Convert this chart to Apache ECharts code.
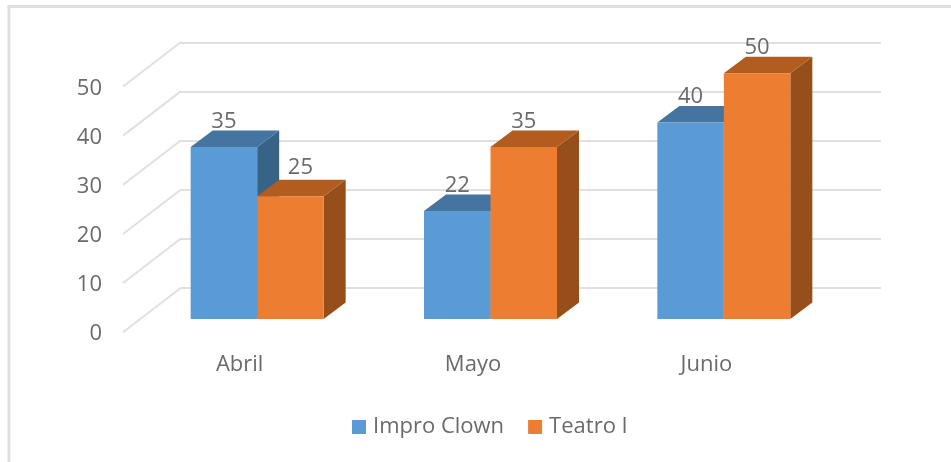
<!DOCTYPE html>
<html>
<head>
<meta charset="utf-8">
<style>html,body{margin:0;padding:0;background:#fff}#c{width:951px;height:462px;filter:blur(0.5px)}</style>
<script src="https://cdn.jsdelivr.net/npm/echarts@6/dist/echarts.min.js"></script>
</head>
<body>
<div id="c"></div>
<script>
const categories = ['Abril', 'Mayo', 'Junio'];
const seriesNames = ['Impro Clown', 'Teatro I'];
const improClown = [35, 22, 40];
const teatroI = [25, 35, 50];
const valueTicks = [0, 10, 20, 30, 40, 50];

const FONT = '"Open Sans"';
const TEXT = '#6a6a6a';
const GRIDC = '#e0e0e0';
const DEPTH_X = 22, DEPTH_Y = 16.5, BAR_W = 66.5;
const WALL_X = 58, WALL_Y = 44.5, WALL_LIFT = 2;
const palette = [
  { front: '#5B9BD5', top: '#44749F', side: '#376387' },
  { front: '#ED7D31', top: '#B35C1F', side: '#964F1A' }
];
// Hand-placed label in the source chart (Teatro I, Abril)
const labelNudge = { '1:0': [10, -3] };

function barRender(s) {
  return function (params, api) {
    const cat = api.value(0), val = api.value(1);
    const base = api.coord([cat, 0]), tip = api.coord([cat, val]);
    const x0 = s === 0 ? base[0] - BAR_W : base[0];
    const x1 = x0 + BAR_W, yT = tip[1], yB = base[1];
    const c = palette[s];
    const n = labelNudge[s + ':' + cat] || [0, 0];
    return {
      type: 'group',
      children: [
        { type: 'polygon', shape: { points: [[x1, yT], [x1 + DEPTH_X, yT - DEPTH_Y], [x1 + DEPTH_X, yB - DEPTH_Y], [x1, yB]] }, style: { fill: c.side } },
        { type: 'polygon', shape: { points: [[x0, yT], [x0 + DEPTH_X, yT - DEPTH_Y], [x1 + DEPTH_X, yT - DEPTH_Y], [x1, yT]] }, style: { fill: c.top } },
        { type: 'rect', shape: { x: x0, y: yT, width: BAR_W, height: yB - yT }, style: { fill: c.front } },
        { type: 'text', z2: 10, style: { text: String(val), x: (x0 + x1) / 2 + n[0], y: yT - 25.5 + n[1], align: 'center', verticalAlign: 'middle', fill: TEXT, font: '22px ' + FONT } }
      ]
    };
  };
}

function wallRender(params, api) {
  const y = api.coord([0, api.value(1)])[1] - WALL_LIFT;
  const x = params.coordSys.x;
  return { type: 'line', shape: { x1: x, y1: y, x2: x + WALL_X, y2: y - WALL_Y }, style: { stroke: GRIDC, lineWidth: 2 } };
}

const hiddenX = { type: 'category', data: categories, axisLine: { show: false }, axisTick: { show: false }, axisLabel: { show: false } };
const hiddenY = { type: 'value', min: 0, max: 50, interval: 10, axisLine: { show: false }, axisTick: { show: false }, axisLabel: { show: false }, splitLine: { show: false } };

const chart = echarts.init(document.getElementById('c'));
chart.setOption({
  animation: false,
  backgroundColor: '#fff',
  grid: [
    { left: 140.5, top: 73.3, width: 700, height: 245.7 },
    { left: 181, top: 43, width: 700, height: 245 },
    { left: 123, top: 88.5, width: 700, height: 245.7 }
  ],
  xAxis: [
    Object.assign({ gridIndex: 0 }, hiddenX),
    Object.assign({ gridIndex: 1 }, hiddenX),
    Object.assign({}, hiddenX, { gridIndex: 2, axisLabel: { show: true, margin: 20, color: TEXT, fontFamily: FONT, fontSize: 22 } })
  ],
  yAxis: [
    Object.assign({ gridIndex: 0 }, hiddenY),
    Object.assign({}, hiddenY, { gridIndex: 1, splitLine: { show: true, lineStyle: { color: GRIDC, width: 2 } } }),
    Object.assign({}, hiddenY, { gridIndex: 2, axisLabel: { show: true, margin: 21, color: TEXT, fontFamily: FONT, fontSize: 22 } })
  ],
  legend: {
    left: 347, top: 411, itemWidth: 14, itemHeight: 14, itemGap: 24,
    textStyle: { color: TEXT, fontFamily: FONT, fontSize: 22, padding: [0, 0, 0, 2] },
    data: seriesNames.map((n, i) => ({ name: n, icon: 'rect', itemStyle: { color: palette[i].front } }))
  },
  graphic: [
    { type: 'line', shape: { x1: 9, y1: 6.5, x2: 9, y2: 462 }, style: { stroke: '#dedede', lineWidth: 3 } },
    { type: 'line', shape: { x1: 7.5, y1: 6.5, x2: 951, y2: 6.5 }, style: { stroke: '#dedede', lineWidth: 3 } }
  ],
  series: [
    { type: 'custom', name: 'wall', xAxisIndex: 2, yAxisIndex: 2, silent: true, clip: false, z: 1, encode: { x: 0, y: 1 }, data: valueTicks.map(t => [0, t]), renderItem: wallRender },
    { type: 'custom', name: seriesNames[0], xAxisIndex: 0, yAxisIndex: 0, clip: false, z: 2, encode: { x: 0, y: 1 }, itemStyle: { color: palette[0].front }, data: improClown.map((v, i) => [i, v]), renderItem: barRender(0) },
    { type: 'custom', name: seriesNames[1], xAxisIndex: 0, yAxisIndex: 0, clip: false, z: 3, encode: { x: 0, y: 1 }, itemStyle: { color: palette[1].front }, data: teatroI.map((v, i) => [i, v]), renderItem: barRender(1) }
  ]
});
</script>
</body>
</html>
